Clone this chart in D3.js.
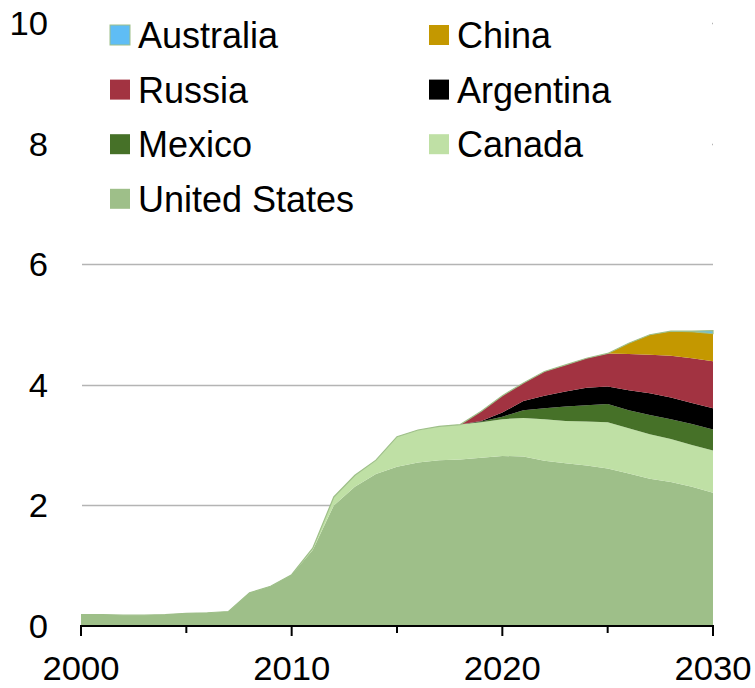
<!DOCTYPE html>
<html>
<head>
<meta charset="utf-8">
<script src="https://cdn.jsdelivr.net/npm/d3@7.9.0/dist/d3.min.js"></script>
<style>
  body { margin: 0; background: #fff; }
  svg { display: block; font-family: "Liberation Sans", Arial, sans-serif; }
</style>
</head>
<body>
<svg id="chart" width="755" height="688"></svg>
<script>
// years on the x axis
const years = [2000, 2001, 2002, 2003, 2004, 2005, 2006, 2007, 2008, 2009,
  2010, 2011, 2012, 2013, 2014, 2015, 2016, 2017, 2018, 2019,
  2020, 2021, 2022, 2023, 2024, 2025, 2026, 2027, 2028, 2029, 2030];

// series values, one per year
const unitedStates = [0.19, 0.19, 0.18, 0.18, 0.19, 0.21, 0.22, 0.24, 0.55, 0.66,
  0.85, 1.26, 2.00, 2.31, 2.52, 2.64, 2.71, 2.75, 2.76, 2.79,
  2.82, 2.81, 2.74, 2.70, 2.66, 2.61, 2.53, 2.44, 2.39, 2.31, 2.21];
const canada = [0, 0, 0, 0, 0, 0, 0, 0, 0, 0,
  0, 0.03, 0.14, 0.19, 0.23, 0.50, 0.54, 0.56, 0.58, 0.59,
  0.61, 0.64, 0.69, 0.70, 0.73, 0.77, 0.75, 0.74, 0.71, 0.69, 0.70];
const mexico = [0, 0, 0, 0, 0, 0, 0, 0, 0, 0,
  0, 0, 0, 0, 0, 0, 0, 0, 0, 0.01,
  0.04, 0.13, 0.18, 0.24, 0.27, 0.30, 0.30, 0.32, 0.33, 0.35, 0.35];
const argentina = [0, 0, 0, 0, 0, 0, 0, 0, 0, 0,
  0, 0, 0, 0, 0, 0, 0, 0, 0, 0.01,
  0.07, 0.15, 0.21, 0.25, 0.29, 0.29, 0.33, 0.36, 0.36, 0.35, 0.35];
const russia = [0, 0, 0, 0, 0, 0, 0, 0, 0, 0,
  0, 0, 0, 0, 0, 0, 0, 0, 0, 0.16,
  0.28, 0.30, 0.40, 0.44, 0.49, 0.55, 0.60, 0.64, 0.69, 0.74, 0.78];
const china = [0, 0, 0, 0, 0, 0, 0, 0, 0, 0,
  0, 0, 0, 0, 0, 0, 0, 0, 0, 0,
  0, 0, 0, 0, 0, 0, 0.18, 0.33, 0.41, 0.44, 0.46];
const australia = [0, 0, 0, 0, 0, 0, 0, 0, 0, 0,
  0, 0, 0, 0, 0, 0, 0, 0, 0, 0,
  0, 0, 0, 0, 0, 0, 0, 0, 0, 0.01, 0.05];

const yTicks = [0, 2, 4, 6, 8, 10];
const xTicks = [2000, 2010, 2020, 2030];
const xMinorTicks = [2005, 2015, 2025];

// stack order bottom -> top
const series = [
  { key: "United States", values: unitedStates, color: "#9ebf89" },
  { key: "Canada", values: canada, color: "#bfe0a5" },
  { key: "Mexico", values: mexico, color: "#467128" },
  { key: "Argentina", values: argentina, color: "#000000" },
  { key: "Russia", values: russia, color: "#a23341" },
  { key: "China", values: china, color: "#c49800" },
  { key: "Australia", values: australia, color: "#5fbdf5" }
];

// legend is read row by row, top of stack first
const legendOrder = ["Australia", "China", "Russia", "Argentina", "Mexico", "Canada", "United States"];

const svg = d3.select("#chart");
const x = d3.scaleLinear().domain([2000, 2030]).range([81, 713]);
const y = d3.scaleLinear().domain([0, 10]).range([626, 23]);

const table = years.map((yr, i) => {
  const row = { year: yr };
  series.forEach(s => row[s.key] = s.values[i]);
  return row;
});

const stacked = d3.stack().keys(series.map(s => s.key))(table);
const colorOf = {};
series.forEach(s => colorOf[s.key] = s.color);

// gridlines
svg.append("g")
  .selectAll("line")
  .data(yTicks.filter(d => d > 0))
  .join("line")
  .attr("x1", x(2000) + 1).attr("x2", x(2030))
  .attr("y1", d => Math.round(y(d)) + 0.5).attr("y2", d => Math.round(y(d)) + 0.5)
  .attr("stroke", "#b4b4b4").attr("stroke-width", 1.3);

// areas
const area = d3.area()
  .x(d => x(d.data.year))
  .y0(d => y(d[0]))
  .y1(d => y(d[1]));

svg.append("g")
  .selectAll("path")
  .data(stacked)
  .join("path")
  .attr("d", area)
  .attr("fill", d => colorOf[d.key])
  .attr("stroke", d => d.key === "Australia" ? "#9ebf89" : "none")
  .attr("stroke-width", 1.2);

// x axis
svg.append("line")
  .attr("x1", x(2000) - 1).attr("x2", x(2030) + 1)
  .attr("y1", 626).attr("y2", 626)
  .attr("stroke", "#000").attr("stroke-width", 2.2);

svg.append("g").selectAll("line")
  .data(xTicks)
  .join("line")
  .attr("x1", d => x(d)).attr("x2", d => x(d))
  .attr("y1", 626).attr("y2", 636)
  .attr("stroke", "#000").attr("stroke-width", 2);

svg.append("g").selectAll("line")
  .data(xMinorTicks)
  .join("line")
  .attr("x1", d => x(d)).attr("x2", d => x(d))
  .attr("y1", 626).attr("y2", 633)
  .attr("stroke", "#000").attr("stroke-width", 2);

svg.append("g").selectAll("text")
  .data(xTicks)
  .join("text")
  .attr("transform", d => `translate(${x(d)},680) scale(1.05,1)`)
  .attr("text-anchor", "middle")
  .attr("font-size", 33)
  .text(d => d);

// y labels
svg.append("g").selectAll("text")
  .data(yTicks)
  .join("text")
  .attr("transform", d => `translate(48,${y(d) + 12}) scale(1.05,1)`)
  .attr("text-anchor", "end")
  .attr("font-size", 33)
  .text(d => d);

// legend box hides the top gridlines
svg.append("rect")
  .attr("x", 82).attr("y", 0)
  .attr("width", 630).attr("height", 232)
  .attr("fill", "#fff");

const legend = svg.append("g");
legendOrder.forEach((key, i) => {
  const col = i % 2, row = Math.floor(i / 2);
  const lx = col === 0 ? 110 : 429;
  const ly = 25 + row * 54.6;
  legend.append("rect")
    .attr("x", lx).attr("y", ly)
    .attr("width", 20).attr("height", 20)
    .attr("fill", colorOf[key])
    .attr("stroke", key === "Australia" ? "#9ebf89" : "none")
    .attr("stroke-width", 1);
  legend.append("text")
    .attr("x", lx + 28).attr("y", ly + 23)
    .attr("font-size", 36)
    .text(key);
});
</script>
</body>
</html>
